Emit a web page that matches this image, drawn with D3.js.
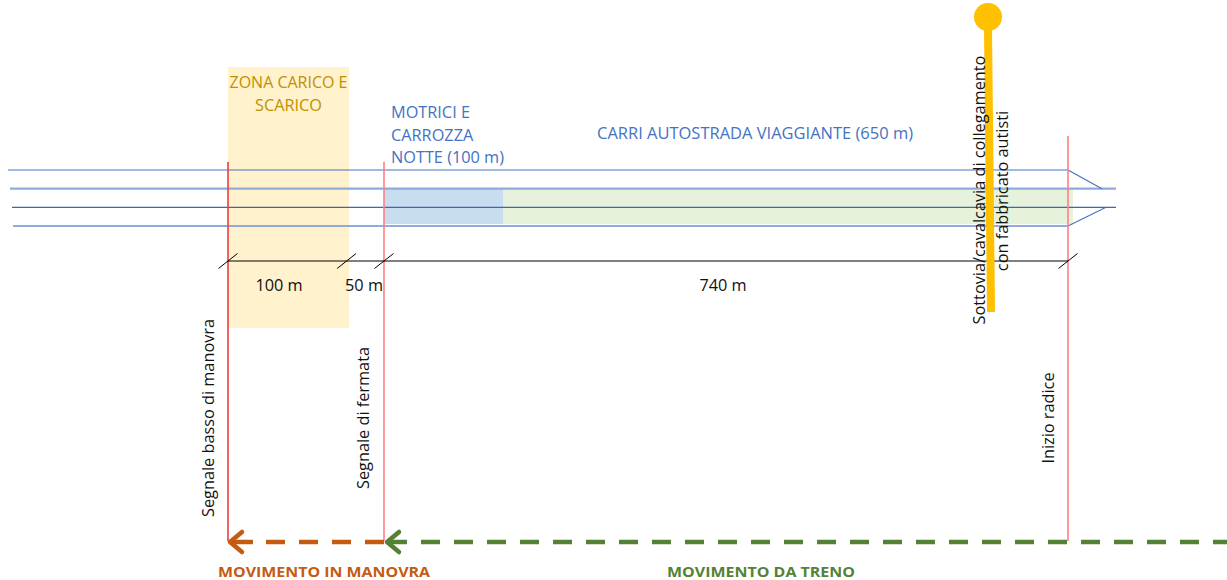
<!DOCTYPE html>
<html><head><meta charset="utf-8">
<script src="https://cdn.jsdelivr.net/npm/d3@7"></script>
<style>html,body{margin:0;padding:0;background:#fff;}svg{display:block;font-family:"Open Sans",sans-serif;}</style>
</head><body>
<svg id="c" width="1227" height="580"></svg>
<script>
// ---- data (metres along the track, schematic) ----
const breakpoints = [-240, 0, 100, 150, 250, 890, 896, 1100];   // schematic anchor points (m)
const signals = [
  {name: "Segnale basso di manovra", pos: 0,   strong: true},
  {name: "Segnale di fermata",       pos: 150, strong: false},
  {name: "Inizio radice",            pos: 890, strong: false}
];
const zones = [
  {name: "ZONA CARICO E SCARICO", from: 0, to: 100},
];
const trainParts = [
  {name: "MOTRICI E CARROZZA NOTTE (100 m)", from: 150, to: 250, len: 100},
  {name: "CARRI AUTOSTRADA VIAGGIANTE (650 m)", from: 250, to: 896, len: 650}
];
const dimensions = [
  {label: "100 m", from: 0,   to: 100},
  {label: "50 m",  from: 100, to: 150},
  {label: "740 m", from: 150, to: 890}
];
const movements = [
  {label: "MOVIMENTO IN MANOVRA", from: 0,   to: 150,  color: "#C55A11"},
  {label: "MOVIMENTO DA TRENO",   from: 150, to: 1100, color: "#548235"}
];
const overpass = {label1: "Sottovia/cavalcavia di collegamento", label2: "con fabbricato autisti", pos: 802};
const tracks = [0, 1, 2, 3];

// ---- scales ----
const x = d3.scaleLinear().domain(breakpoints).range([8, 228, 349, 384, 503, 1068, 1073, 1227]);
const yTrack = d3.scaleLinear().domain([0, 3]).range([170, 226]);
const FS = 16.3;

const svg = d3.select("#c");

// zone (yellow)
svg.selectAll("rect.zone").data(zones).join("rect")
  .attr("x", d => x(d.from)).attr("width", d => x(d.to) - x(d.from))
  .attr("y", 67).attr("height", 261).attr("fill", "#FFF2CC");
svg.append("text").attr("x", (x(0)+x(100))/2).attr("y", 88).attr("text-anchor","middle")
  .attr("fill","#BF9000").attr("font-size",FS).attr("textLength",118).attr("lengthAdjust","spacingAndGlyphs").text("ZONA CARICO E");
svg.append("text").attr("x", (x(0)+x(100))/2).attr("y", 111).attr("text-anchor","middle")
  .attr("fill","#BF9000").attr("font-size",FS).text("SCARICO");

// train parts
const partColors = ["#C9DDF1", "#E6F2DC"];
svg.selectAll("rect.part").data(trainParts).join("rect")
  .attr("x", d => x(d.from)).attr("width", d => x(d.to) - x(d.from))
  .attr("y", yTrack(1)).attr("height", yTrack(3) - yTrack(1) - 2)
  .attr("fill", (d,i) => partColors[i]);

// tracks
const starts = [8, 10, 12, 13];
const trackStyle = [
  {c:"#4472C4", w:1.2}, {c:"#8FAADC", w:2.2}, {c:"#3F66B5", w:1.2}, {c:"#8FAADC", w:2.2}
];
tracks.forEach((t,i) => {
  const y = yTrack(t);
  const end = (t === 1 || t === 2) ? x(1100) - 111 : x(890);
  svg.append("line").attr("x1", starts[i]).attr("x2", end).attr("y1", y).attr("y2", y)
    .attr("stroke", trackStyle[i].c).attr("stroke-width", trackStyle[i].w);
});
// switch diagonals
svg.append("line").attr("x1", x(890)).attr("y1", yTrack(0)).attr("x2", x(890)+34).attr("y2", yTrack(1))
  .attr("stroke","#4472C4").attr("stroke-width",1.1);
svg.append("line").attr("x1", x(890)).attr("y1", yTrack(3)).attr("x2", x(890)+38).attr("y2", yTrack(2))
  .attr("stroke","#4472C4").attr("stroke-width",1.1);

// train labels
const blue = "#4472C4";
["MOTRICI E", "CARROZZA", "NOTTE (100 m)"].forEach((s,i) => {
  svg.append("text").attr("x", x(150)+7).attr("y", 118 + i*22.5).attr("fill", blue)
    .attr("font-size", FS).text(s);
});
svg.append("text").attr("x", 597).attr("y", 139).attr("fill", blue).attr("font-size", FS)
  .attr("textLength", 316).attr("lengthAdjust","spacingAndGlyphs").text(trainParts[1].name);

// signals (red verticals)
svg.selectAll("line.sig").data(signals).join("line")
  .attr("x1", d => x(d.pos)).attr("x2", d => x(d.pos))
  .attr("y1", d => d.pos === 890 ? 136 : 162).attr("y2", 541)
  .attr("stroke", d => d.strong ? "#F23A3A" : "#FF7F84").attr("stroke-width", 1.6);

// signal labels (rotated)
const sigLabelX = [214, 369, 1054];
signals.forEach((d,i) => {
  svg.append("text").attr("transform", `translate(${sigLabelX[i]},418) rotate(-90)`)
    .attr("text-anchor","middle").attr("font-size",FS).attr("fill","#111").text(d.name);
});

// dimension line
svg.append("line").attr("x1", x(0)).attr("x2", x(890)).attr("y1", 261).attr("y2", 261)
  .attr("stroke","#000").attr("stroke-width",1.2);
const tickPos = [0, 98, 150, 890];
svg.selectAll("line.tk").data(tickPos).join("line")
  .attr("x1", d => x(d) - 9.5).attr("y1", 268.5).attr("x2", d => x(d) + 9.5).attr("y2", 253.5)
  .attr("stroke","#000").attr("stroke-width",1);
const dimLabelX = [279, 364, 723];
dimensions.forEach((d,i) => {
  svg.append("text").attr("x", dimLabelX[i]).attr("y", 291).attr("text-anchor","middle")
    .attr("font-size",FS).attr("fill","#111").text(d.label);
});

// overpass pole
svg.append("line").attr("x1", 988).attr("y1", 28).attr("x2", 991).attr("y2", 312)
  .attr("stroke","#FFC000").attr("stroke-width",8);
svg.append("circle").attr("cx", 988).attr("cy", 17).attr("r", 14).attr("fill","#FFC000");
svg.append("text").attr("transform","translate(985,190) rotate(-90)").attr("text-anchor","middle")
  .attr("font-size",FS).attr("fill","#111").text(overpass.label1);
svg.append("text").attr("transform","translate(1008,191) rotate(-90)").attr("text-anchor","middle")
  .attr("font-size",FS).attr("fill","#111").text(overpass.label2);

// movements
const yM = 542;
// orange: dashed, anchored at its right end
{
  const m = movements[0], x0 = x(m.from), x1 = x(m.to);
  svg.append("line").attr("x1", x1).attr("x2", x0 + 32).attr("y1", yM).attr("y2", yM)
    .attr("stroke", m.color).attr("stroke-width", 4.5).attr("stroke-dasharray", "19,14");
  svg.append("line").attr("x1", x0 + 3).attr("x2", x0 + 25).attr("y1", yM).attr("y2", yM)
    .attr("stroke", m.color).attr("stroke-width", 4.5);
  svg.append("path").attr("d", `M${x0+14},${yM-10}L${x0+2},${yM}L${x0+14},${yM+10}`)
    .attr("fill","none").attr("stroke", m.color).attr("stroke-width", 4.5)
    .attr("stroke-linecap","round").attr("stroke-linejoin","round");
}
{
  const m = movements[1], x0 = x(m.from), x1 = x(m.to);
  svg.append("line").attr("x1", x0 + 37).attr("x2", x1).attr("y1", yM).attr("y2", yM)
    .attr("stroke", m.color).attr("stroke-width", 4.5).attr("stroke-dasharray", "19,14");
  svg.append("line").attr("x1", x0 + 4).attr("x2", x0 + 23).attr("y1", yM).attr("y2", yM)
    .attr("stroke", m.color).attr("stroke-width", 4.5);
  svg.append("path").attr("d", `M${x0+15},${yM-10}L${x0+3},${yM}L${x0+15},${yM+10}`)
    .attr("fill","none").attr("stroke", m.color).attr("stroke-width", 4.5)
    .attr("stroke-linecap","round").attr("stroke-linejoin","round");
}
svg.append("text").attr("x", 324).attr("y", 577).attr("text-anchor","middle").attr("font-weight","bold")
  .attr("font-size",15).attr("fill","#C55A11").attr("textLength",212).attr("lengthAdjust","spacingAndGlyphs")
  .text(movements[0].label);
svg.append("text").attr("x", 761).attr("y", 577).attr("text-anchor","middle").attr("font-weight","bold")
  .attr("font-size",15).attr("fill","#548235").attr("textLength",188).attr("lengthAdjust","spacingAndGlyphs")
  .text(movements[1].label);
</script>
</body></html>
